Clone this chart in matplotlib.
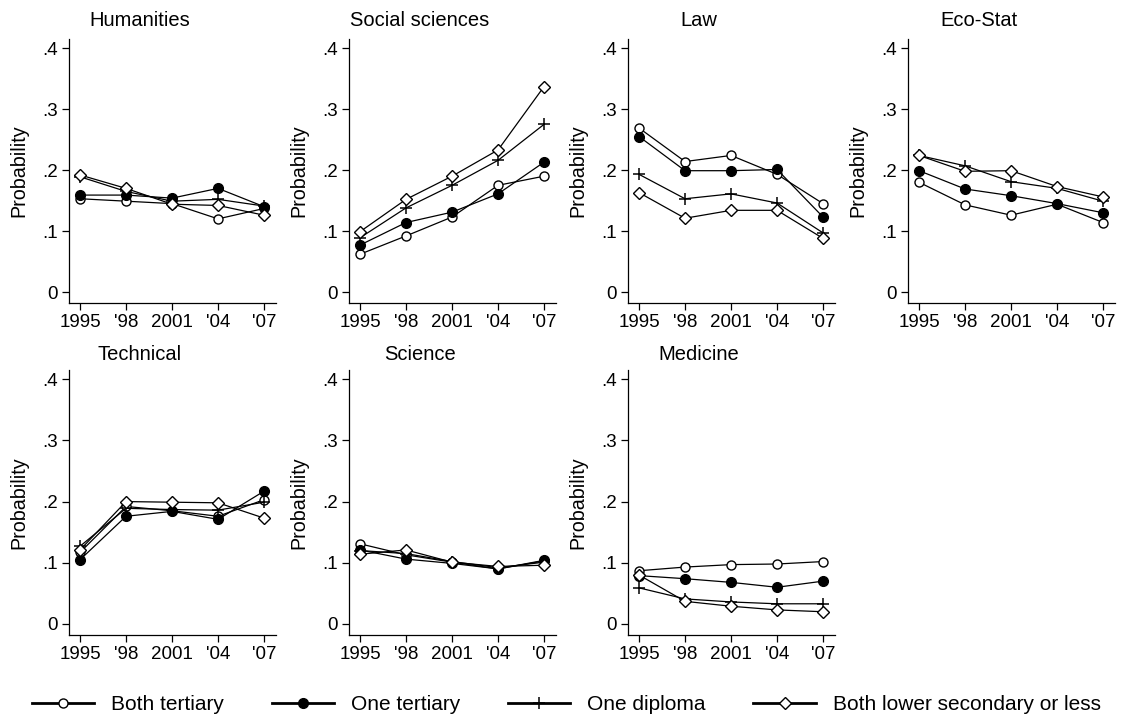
import matplotlib
matplotlib.use("Agg")
import matplotlib.pyplot as plt
from matplotlib.lines import Line2D

plt.rcParams["font.family"] = ["Liberation Sans", "DejaVu Sans"]

# Survey years and tick labels
years = [1995, 1998, 2001, 2004, 2007]
year_labels = ["1995", "'98", "2001", "'04", "'07"]

fields = ["Humanities", "Social sciences", "Law", "Eco-Stat",
          "Technical", "Science", "Medicine"]

series_names = ["Both tertiary", "One tertiary", "One diploma",
                "Both lower secondary or less"]

# Probabilities per field, one list per parental education group
both_tertiary = {
    "Humanities":      [0.153, 0.149, 0.145, 0.120, 0.137],
    "Social sciences": [0.062, 0.092, 0.123, 0.175, 0.190],
    "Law":             [0.269, 0.214, 0.224, 0.193, 0.145],
    "Eco-Stat":        [0.180, 0.143, 0.126, 0.144, 0.114],
    "Technical":       [0.117, 0.192, 0.185, 0.176, 0.203],
    "Science":         [0.131, 0.113, 0.101, 0.090, 0.103],
    "Medicine":        [0.087, 0.093, 0.097, 0.098, 0.102],
}
one_tertiary = {
    "Humanities":      [0.159, 0.159, 0.154, 0.170, 0.140],
    "Social sciences": [0.077, 0.114, 0.131, 0.161, 0.213],
    "Law":             [0.255, 0.199, 0.199, 0.201, 0.123],
    "Eco-Stat":        [0.199, 0.169, 0.158, 0.145, 0.130],
    "Technical":       [0.105, 0.176, 0.184, 0.171, 0.217],
    "Science":         [0.121, 0.106, 0.099, 0.090, 0.104],
    "Medicine":        [0.079, 0.074, 0.068, 0.060, 0.070],
}
one_diploma = {
    "Humanities":      [0.189, 0.165, 0.149, 0.152, 0.141],
    "Social sciences": [0.089, 0.138, 0.175, 0.216, 0.275],
    "Law":             [0.193, 0.153, 0.161, 0.146, 0.097],
    "Eco-Stat":        [0.224, 0.207, 0.181, 0.170, 0.149],
    "Technical":       [0.127, 0.189, 0.187, 0.186, 0.199],
    "Science":         [0.120, 0.115, 0.102, 0.092, 0.101],
    "Medicine":        [0.059, 0.041, 0.036, 0.033, 0.033],
}
both_lower = {
    "Humanities":      [0.192, 0.170, 0.144, 0.142, 0.126],
    "Social sciences": [0.099, 0.152, 0.190, 0.233, 0.337],
    "Law":             [0.163, 0.121, 0.134, 0.134, 0.088],
    "Eco-Stat":        [0.224, 0.198, 0.199, 0.173, 0.156],
    "Technical":       [0.121, 0.200, 0.199, 0.198, 0.173],
    "Science":         [0.114, 0.121, 0.101, 0.094, 0.096],
    "Medicine":        [0.080, 0.037, 0.029, 0.023, 0.020],
}

all_series = [both_tertiary, one_tertiary, one_diploma, both_lower]
styles = [
    dict(marker="o", markerfacecolor="white", markersize=6.5),
    dict(marker="o", markerfacecolor="black", markersize=7),
    dict(marker="+", markersize=9, markeredgewidth=1.1),
    dict(marker="D", markerfacecolor="white", markersize=6.5),
]

W, H = 1121, 720
fig = plt.figure(figsize=(W / 100, H / 100), dpi=100)

# Pixel layout of the panels (left edge of y-axis, top and bottom of axes)
col_x = [69, 349, 628, 908]
rows = [(39, 303), (370, 635)]
ax_w = 207
fs = 13.5

for i, field in enumerate(fields):
    r, c = divmod(i, 4)
    top, bot = rows[r]
    ax = fig.add_axes([col_x[c] / W, 1 - bot / H, ax_w / W, (bot - top) / H])
    for data, st in zip(all_series, styles):
        ax.plot(years, data[field], color="black", linewidth=0.9,
                markeredgecolor="black", **st)
    ax.set_xlim(1994.28, 2007.78)
    ax.set_ylim(-0.018, 0.415)
    ax.set_xticks(years)
    ax.set_xticklabels(year_labels)
    ax.set_yticks([0, 0.1, 0.2, 0.3, 0.4])
    ax.set_yticklabels(["0", ".1", ".2", ".3", ".4"])
    ax.tick_params(labelsize=fs, length=5, width=0.9, direction="out", pad=3)
    for s in ["top", "right"]:
        ax.spines[s].set_visible(False)
    for s in ["left", "bottom"]:
        ax.spines[s].set_linewidth(0.9)
    ax.set_ylabel("Probability", fontsize=14.2)
    ax.yaxis.set_label_coords(-0.198, 0.5)
    # Title centered over the whole panel cell
    cx = (col_x[c] - 69 + 140) / W
    ty = 20 if r == 0 else 355
    fig.text(cx, 1 - ty / H, field, ha="center", va="center", fontsize=14.5)

handles = [Line2D([], [], color="black", linewidth=2, markeredgecolor="black", **st)
           for st in styles]
fig.legend(handles, series_names, loc="center", ncol=4, frameon=False,
           bbox_to_anchor=(0.505, 1 - 705 / H), fontsize=15,
           handlelength=3.0, columnspacing=2.3, handletextpad=0.8)

fig.savefig("out.png", dpi=100)
